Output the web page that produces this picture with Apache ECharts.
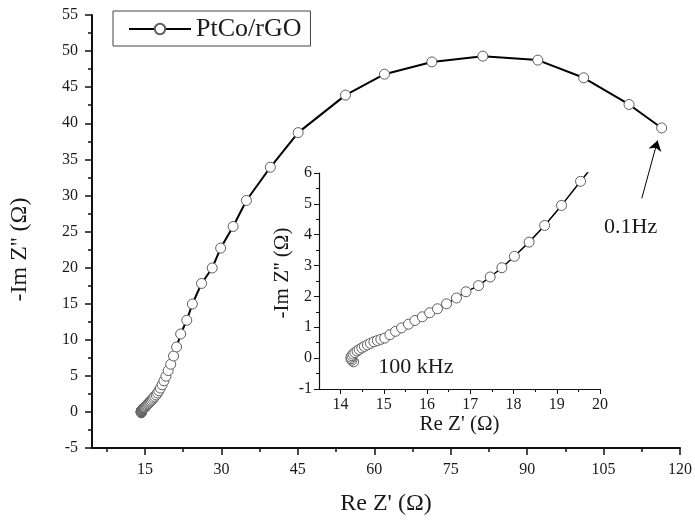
<!DOCTYPE html>
<html>
<head>
<meta charset="utf-8">
<script src="https://cdn.jsdelivr.net/npm/echarts@6/dist/echarts.min.js"></script>
<style>
html,body{margin:0;padding:0;background:#fff;}
#chart{width:695px;height:521px;}
</style>
</head>
<body>
<div id="chart"></div>
<script>
// Re Z' (Ohm) and -Im Z'' (Ohm) values, high frequency (100 kHz) -> low frequency (0.1 Hz)
const reZ = [14.30,14.26,14.24,14.24,14.26,14.29,14.33,14.38,14.43,14.49,14.55,14.62,14.69,14.77,14.85,14.93,
  15.02,15.14,15.27,15.41,15.57,15.72,15.89,16.06,16.24,16.45,16.68,16.90,17.19,17.46,17.73,18.02,18.36,18.72,
  19.11,19.55,20.05,20.60,21.2,22.0,23.2,24.3,26.1,28.2,29.85,32.3,34.9,39.6,45.06,54.35,62.0,71.3,81.3,92.1,
  101.1,110.0,116.4];
const imZ = [-0.12,-0.07,-0.02,0.03,0.08,0.13,0.18,0.23,0.28,0.33,0.38,0.43,0.48,0.53,0.57,0.61,
  0.65,0.76,0.87,0.98,1.10,1.22,1.34,1.47,1.60,1.76,1.95,2.15,2.35,2.63,2.93,3.30,3.76,4.30,
  4.95,5.73,6.60,7.75,9.0,10.8,12.7,14.95,17.8,19.95,22.7,25.7,29.3,33.9,38.7,43.9,46.8,48.5,49.3,48.75,
  46.3,42.6,39.35];
const seriesName = 'PtCo/rGO';

// tick values
const mainXTicks = [15,30,45,60,75,90,105,120];
const mainXMinor = [7.5,22.5,37.5,52.5,67.5,82.5,97.5,112.5];
const insetXTicks = [14,15,16,17,18,19,20];
const insetXMinor = [14.5,15.5,16.5,17.5,18.5,19.5];

// annotations (data coordinates)
const arrowFrom = [112.5,29.6];
const arrowTo = [115.6,37.6];
const lowFreqLabel = {text:'0.1Hz', at:[110.3,25.6]};
const highFreqLabel = {text:'100 kHz', at:[15.74,-0.28]};

const data = reZ.map((x,i)=>[x, imZ[i]]);
const FONT = '"Liberation Serif","Times New Roman",serif';
const TXT = '#1a1a1a';

const chart = echarts.init(document.getElementById('chart'), null, {renderer:'canvas'});

const markerStyle = {color:'#ffffff', borderColor:'#5e5e5e', borderWidth:1};

chart.setOption({
  animation:false,
  backgroundColor:'#ffffff',
  legend:{
    data:[seriesName],
    left:113, top:11,
    borderColor:'#444', borderWidth:1,
    padding:[5,9,4,15],
    itemWidth:62, itemHeight:13,
    textStyle:{fontFamily:FONT, fontSize:26, color:TXT}
  },
  grid:[
    {left:92, right:13, top:15, bottom:73},
    {left:319, right:95, top:173, bottom:132}
  ],
  xAxis:[
    {gridIndex:0, type:'value', position:'bottom', min:4.6, max:120,
     axisLine:{show:true, onZero:false, lineStyle:{color:'#111', width:2}},
     axisTick:{show:true, customValues:mainXTicks, length:7, lineStyle:{color:'#111', width:1.5}},
     axisLabel:{show:true, customValues:mainXTicks, margin:14, fontFamily:FONT, fontSize:16, color:TXT},
     splitLine:{show:false},
     name:"Re Z' (\u03A9)", nameLocation:'middle', nameGap:44,
     nameTextStyle:{fontFamily:FONT, fontSize:24, color:TXT}},
    {gridIndex:0, type:'value', position:'bottom', min:4.6, max:120,
     axisLine:{show:false, onZero:false},
     axisTick:{show:true, customValues:mainXMinor, length:4, lineStyle:{color:'#111', width:1.5}},
     axisLabel:{show:false}, splitLine:{show:false}},
    {gridIndex:1, type:'value', position:'bottom', min:13.5, max:20,
     axisLine:{show:true, onZero:false, lineStyle:{color:'#111', width:1.2}},
     axisTick:{show:true, customValues:insetXTicks, length:5, lineStyle:{color:'#111', width:1}},
     axisLabel:{show:true, customValues:insetXTicks, margin:8, fontFamily:FONT, fontSize:16, color:TXT},
     splitLine:{show:false},
     name:"Re Z' (\u03A9)", nameLocation:'middle', nameGap:24,
     nameTextStyle:{fontFamily:FONT, fontSize:21, color:TXT}},
    {gridIndex:1, type:'value', position:'bottom', min:13.5, max:20,
     axisLine:{show:false, onZero:false},
     axisTick:{show:true, customValues:insetXMinor, length:3, lineStyle:{color:'#111', width:1}},
     axisLabel:{show:false}, splitLine:{show:false}}
  ],
  yAxis:[
    {gridIndex:0, type:'value', position:'left', min:-5, max:55, interval:5,
     axisLine:{show:true, onZero:false, lineStyle:{color:'#111', width:2}},
     axisTick:{show:true, length:7, lineStyle:{color:'#111', width:1.5}},
     minorTick:{show:true, splitNumber:2, length:4, lineStyle:{color:'#111', width:1.5}},
     axisLabel:{margin:14, fontFamily:FONT, fontSize:16, color:TXT},
     splitLine:{show:false}, minorSplitLine:{show:false},
     name:"-Im Z'' (\u03A9)", nameLocation:'middle', nameGap:60,
     nameTextStyle:{fontFamily:FONT, fontSize:24, color:TXT, padding:[0,36,0,0]}},
    {gridIndex:1, type:'value', position:'left', min:-1, max:6, interval:1,
     axisLine:{show:true, onZero:false, lineStyle:{color:'#111', width:1.2}},
     axisTick:{show:true, length:5, lineStyle:{color:'#111', width:1}},
     minorTick:{show:true, splitNumber:2, length:3, lineStyle:{color:'#111', width:1}},
     axisLabel:{margin:7, fontFamily:FONT, fontSize:16, color:TXT},
     splitLine:{show:false}, minorSplitLine:{show:false},
     name:"-Im Z'' (\u03A9)", nameLocation:'middle', nameGap:26,
     nameTextStyle:{fontFamily:FONT, fontSize:21, color:TXT, padding:[0,0,0,16]}}
  ],
  series:[
    {name:seriesName, type:'line', xAxisIndex:0, yAxisIndex:0, data:data,
     symbol:'circle', symbolSize:10, showAllSymbol:true,
     itemStyle:markerStyle, lineStyle:{color:'#000', width:2},
     markLine:{silent:true, symbol:['none','arrow'], symbolSize:10,
       lineStyle:{color:'#000', width:1, type:'solid'}, label:{show:false},
       data:[[{coord:arrowFrom},{coord:arrowTo}]]},
     markPoint:{silent:true, data:[{coord:lowFreqLabel.at, symbol:'circle', symbolSize:0,
       label:{show:true, position:'inside', formatter:lowFreqLabel.text, fontFamily:FONT, fontSize:22, color:TXT}}]}
    },
    {name:'inset', type:'line', xAxisIndex:2, yAxisIndex:1, data:data, clip:true,
     symbol:'circle', symbolSize:10, showAllSymbol:true,
     itemStyle:markerStyle, lineStyle:{color:'#000', width:1.5},
     markPoint:{silent:true, data:[{coord:highFreqLabel.at, symbol:'circle', symbolSize:0,
       label:{show:true, position:'inside', formatter:highFreqLabel.text, fontFamily:FONT, fontSize:22, color:TXT}}]}
    }
  ]
});
</script>
</body>
</html>
